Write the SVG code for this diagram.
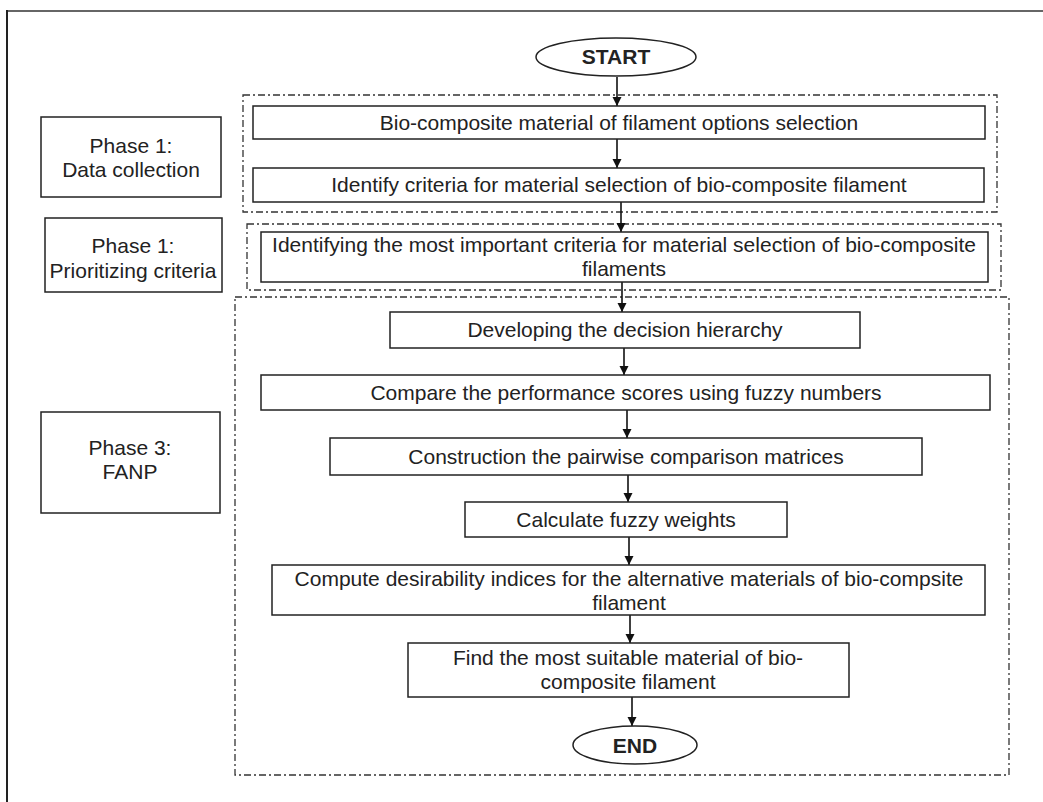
<svg xmlns="http://www.w3.org/2000/svg" width="1043" height="802" viewBox="0 0 1043 802">
<style>
.box{fill:#fff;stroke:#222;stroke-width:1.5}
.grp{fill:none;stroke:#333;stroke-width:1.3;stroke-dasharray:7 3 2 3}
.t{font-family:"Liberation Sans",Arial,sans-serif;font-size:21px;fill:#222;text-anchor:middle}
.b{font-weight:bold}
.c{stroke:#111;stroke-width:1.6;fill:none}
</style>
<defs>
<marker id="ah" markerWidth="10" markerHeight="10" refX="9" refY="5" orient="auto" markerUnits="userSpaceOnUse" viewBox="0 0 10 10">
<path d="M0,0.5 L9,5 L0,9.5 Z" fill="#111"/>
</marker>
</defs>
<rect width="1043" height="802" fill="#fff"/>
<g id="frame">
<line x1="7" y1="11" x2="1043" y2="11" stroke="#666" stroke-width="2"/>
<line x1="7" y1="10" x2="7" y2="802" stroke="#222" stroke-width="2"/>
</g>
<g id="groups">
<rect class="grp" x="243" y="95" width="754" height="117"/>
<rect class="grp" x="247" y="224" width="754" height="66"/>
<rect class="grp" x="235" y="297" width="774" height="478"/>
</g>
<g id="connectors">
<line class="c" x1="617" y1="77" x2="617" y2="106" marker-end="url(#ah)"/>
<line class="c" x1="617" y1="139" x2="617" y2="168" marker-end="url(#ah)"/>
<line class="c" x1="621" y1="202" x2="621" y2="232" marker-end="url(#ah)"/>
<line class="c" x1="622" y1="282" x2="622" y2="312" marker-end="url(#ah)"/>
<line class="c" x1="624" y1="348" x2="624" y2="375" marker-end="url(#ah)"/>
<line class="c" x1="627" y1="410" x2="627" y2="438" marker-end="url(#ah)"/>
<line class="c" x1="628" y1="475" x2="628" y2="502" marker-end="url(#ah)"/>
<line class="c" x1="629" y1="537" x2="629" y2="565" marker-end="url(#ah)"/>
<line class="c" x1="630" y1="615" x2="630" y2="643" marker-end="url(#ah)"/>
<line class="c" x1="632" y1="697" x2="632" y2="726" marker-end="url(#ah)"/>
</g>
<g id="start">
<ellipse class="box" cx="616" cy="57" rx="80" ry="19"/>
<text class="t b" x="616" y="64">START</text>
</g>
<g id="phase1-data">
<rect class="box" x="41" y="117" width="180" height="80"/>
<text class="t" x="131" y="153">Phase 1:</text>
<text class="t" x="131" y="177">Data collection</text>
</g>
<g id="phase1-prio">
<rect class="box" x="45" y="218" width="177" height="74"/>
<text class="t" x="133" y="253">Phase 1:</text>
<text class="t" x="133" y="278">Prioritizing criteria</text>
</g>
<g id="phase3">
<rect class="box" x="41" y="412" width="179" height="101"/>
<text class="t" x="130" y="455">Phase 3:</text>
<text class="t" x="130" y="479">FANP</text>
</g>
<g id="n1">
<rect class="box" x="253" y="106" width="732" height="33"/>
<text class="t" x="619" y="130">Bio-composite material of filament options selection</text>
</g>
<g id="n2">
<rect class="box" x="253" y="168" width="731" height="34"/>
<text class="t" x="619" y="192">Identify criteria for material selection of bio-composite filament</text>
</g>
<g id="n3">
<rect class="box" x="261" y="232" width="727" height="50"/>
<text class="t" x="624" y="252">Identifying the most important criteria for material selection of bio-composite</text>
<text class="t" x="624" y="276">filaments</text>
</g>
<g id="n4">
<rect class="box" x="390" y="312" width="470" height="36"/>
<text class="t" x="625" y="337">Developing the decision hierarchy</text>
</g>
<g id="n5">
<rect class="box" x="261" y="375" width="729" height="35"/>
<text class="t" x="626" y="400">Compare the performance scores using fuzzy numbers</text>
</g>
<g id="n6">
<rect class="box" x="330" y="438" width="592" height="37"/>
<text class="t" x="626" y="464">Construction the pairwise comparison matrices</text>
</g>
<g id="n7">
<rect class="box" x="465" y="502" width="322" height="35"/>
<text class="t" x="626" y="527">Calculate fuzzy weights</text>
</g>
<g id="n8">
<rect class="box" x="272" y="565" width="713" height="50"/>
<text class="t" x="629" y="586">Compute desirability indices for the alternative materials of bio-compsite</text>
<text class="t" x="629" y="610">filament</text>
</g>
<g id="n9">
<rect class="box" x="408" y="643" width="441" height="54"/>
<text class="t" x="628" y="665">Find the most suitable material of bio-</text>
<text class="t" x="628" y="689">composite filament</text>
</g>
<g id="end">
<ellipse class="box" cx="635" cy="745" rx="62" ry="19"/>
<text class="t b" x="635" y="753">END</text>
</g>
</svg>
